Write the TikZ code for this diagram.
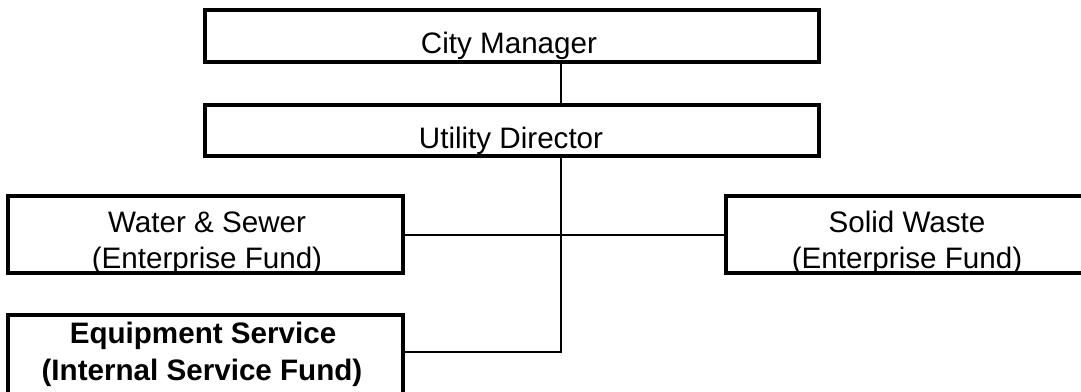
\documentclass[tikz,border=0pt]{standalone}
\usepackage{fontspec}
\setmainfont{Liberation Sans}
\begin{document}
\begin{tikzpicture}[x=1pt,y=-1pt,
  box/.style={draw, line width=4pt, rectangle, inner sep=0pt, outer sep=0pt},
  lbl/.style={font=\fontsize{29.6}{35}\selectfont, anchor=base, inner sep=0pt},
  blbl/.style={lbl, font=\fontsize{29.6}{35}\selectfont\bfseries},
  conn/.style={line width=2pt}]
\useasboundingbox (0,0) rectangle (1081,391);
\clip (0,0) rectangle (1081,391);
\node[box, minimum width=614pt, minimum height=52pt] (cm) at (512,36) {};
\node[lbl] (cmt) at (509,53) {City Manager};
\node[box, minimum width=614pt, minimum height=51pt] (ud) at (512,130.5) {};
\node[lbl] (udt) at (511,148) {Utility Director};
\node[box, minimum width=395pt, minimum height=77pt] (ws) at (205.5,234.5) {};
\node[lbl] (ws1) at (207,232) {Water \& Sewer};
\node[lbl] (ws2) at (207,268) {(Enterprise Fund)};
\node[box, minimum width=364pt, minimum height=77pt] (sw) at (908,234.5) {};
\node[lbl] (sw1) at (907,232) {Solid Waste};
\node[lbl] (sw2) at (907,268) {(Enterprise Fund)};
\node[box, minimum width=395pt, minimum height=90pt] (eq) at (205.5,360) {};
\node[blbl] (eq1) at (203,343) {Equipment Service};
\node[blbl] (eq2) at (202,380) {(Internal Service Fund)};
\coordinate (trunk) at (561,0);
\coordinate (eqj) at (561,352);
\draw[conn] (cm.south -| trunk) -- (ud.north -| trunk);
\draw[conn] (ud.south -| trunk) -- (eqj) -- (eqj -| eq.east);
\draw[conn] (ws.east) -- (sw.west);
\end{tikzpicture}
\end{document}
